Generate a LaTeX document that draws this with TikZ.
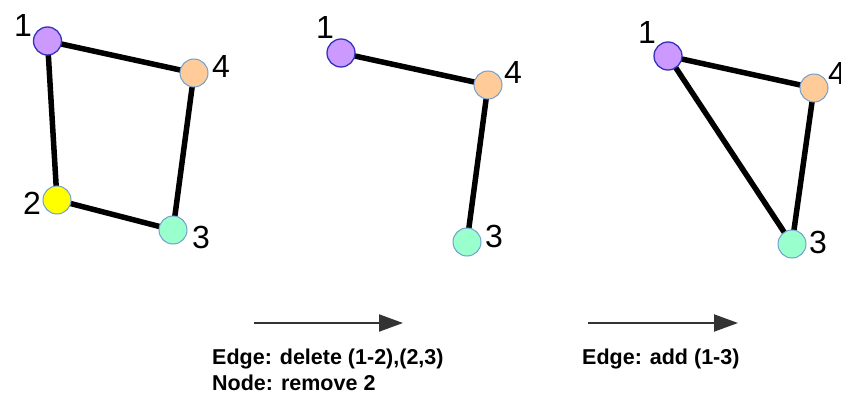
\documentclass[tikz,border=0pt]{standalone}
\usepackage{fontspec}
\setmainfont{Liberation Sans}
\usetikzlibrary{arrows.meta}
\definecolor{cpurple}{HTML}{CC99FF}
\definecolor{corange}{HTML}{FFCC99}
\definecolor{cyellow}{HTML}{FFFF00}
\definecolor{cmint}{HTML}{99FFCC}
\definecolor{bdark}{HTML}{3333BB}
\definecolor{blight}{HTML}{729FCF}
\tikzset{
  vert/.style={circle, minimum size=28pt, inner sep=0pt, draw=blight, line width=1pt},
  vone/.style={vert, fill=cpurple, draw=bdark, line width=1.3pt},
  vfour/.style={vert, fill=corange},
  vtwo/.style={vert, fill=cyellow},
  vthree/.style={vert, fill=cmint},
  lab/.style={inner sep=0pt, font=\fontsize{32}{34}\selectfont},
  edge/.style={line width=5.5pt, black},
  step arrow/.style={line width=2pt, draw=black!80, -{Triangle[length=24pt, width=17pt]}},
  caption/.style={inner sep=0pt, anchor=base west, font=\bfseries\fontsize{21.5}{23}\selectfont}
}
\begin{document}
\begin{tikzpicture}[x=1pt, y=-1pt]
\useasboundingbox (0,0) rectangle (841,396);
% graph 1
\draw[edge] (47.5,41) -- (194,73) -- (173,230) -- (57,200) -- cycle;
\node[vone] (a1) at (47.5,41) {};
\node[vfour] (a4) at (194,73) {};
\node[vtwo] (a2) at (57,200) {};
\node[vthree] (a3) at (173,230) {};
\node[lab] (la1) at (23,25) {1};
\node[lab] (la4) at (221,66) {4};
\node[lab] (la2) at (32,203) {2};
\node[lab] (la3) at (201,237) {3};
% graph 2
\draw[edge] (341,53) -- (488,85) -- (467,242);
\node[vone] (b1) at (341,53) {};
\node[vfour] (b4) at (488,85) {};
\node[vthree] (b3) at (467,242) {};
\node[lab] (lb1) at (325,27) {1};
\node[lab] (lb4) at (513,72) {4};
\node[lab] (lb3) at (494,236) {3};
% graph 3
\draw[edge] (668,56) -- (814,88) -- (792,244) -- cycle;
\node[vone] (c1) at (668,56) {};
\node[vfour] (c4) at (814,88) {};
\node[vthree] (c3) at (792,244) {};
\node[lab] (lc1) at (647,32) {1};
\node[lab] (lc4) at (837,73) {4};
\node[lab] (lc3) at (818,242) {3};
% arrows
\coordinate (s1) at (254,323);
\coordinate (e1) at (403,323);
\coordinate (s2) at (588,323);
\coordinate (e2) at (738,323);
\draw[step arrow] (s1) -- (e1);
\draw[step arrow] (s2) -- (e2);
\node[caption] (t1) at (212,364) {Edge: delete (1-2),(2,3)};
\node[caption] (t2) at (212,390) {Node: remove 2};
\node[caption] (t3) at (582,364) {Edge: add (1-3)};
\end{tikzpicture}
\end{document}
